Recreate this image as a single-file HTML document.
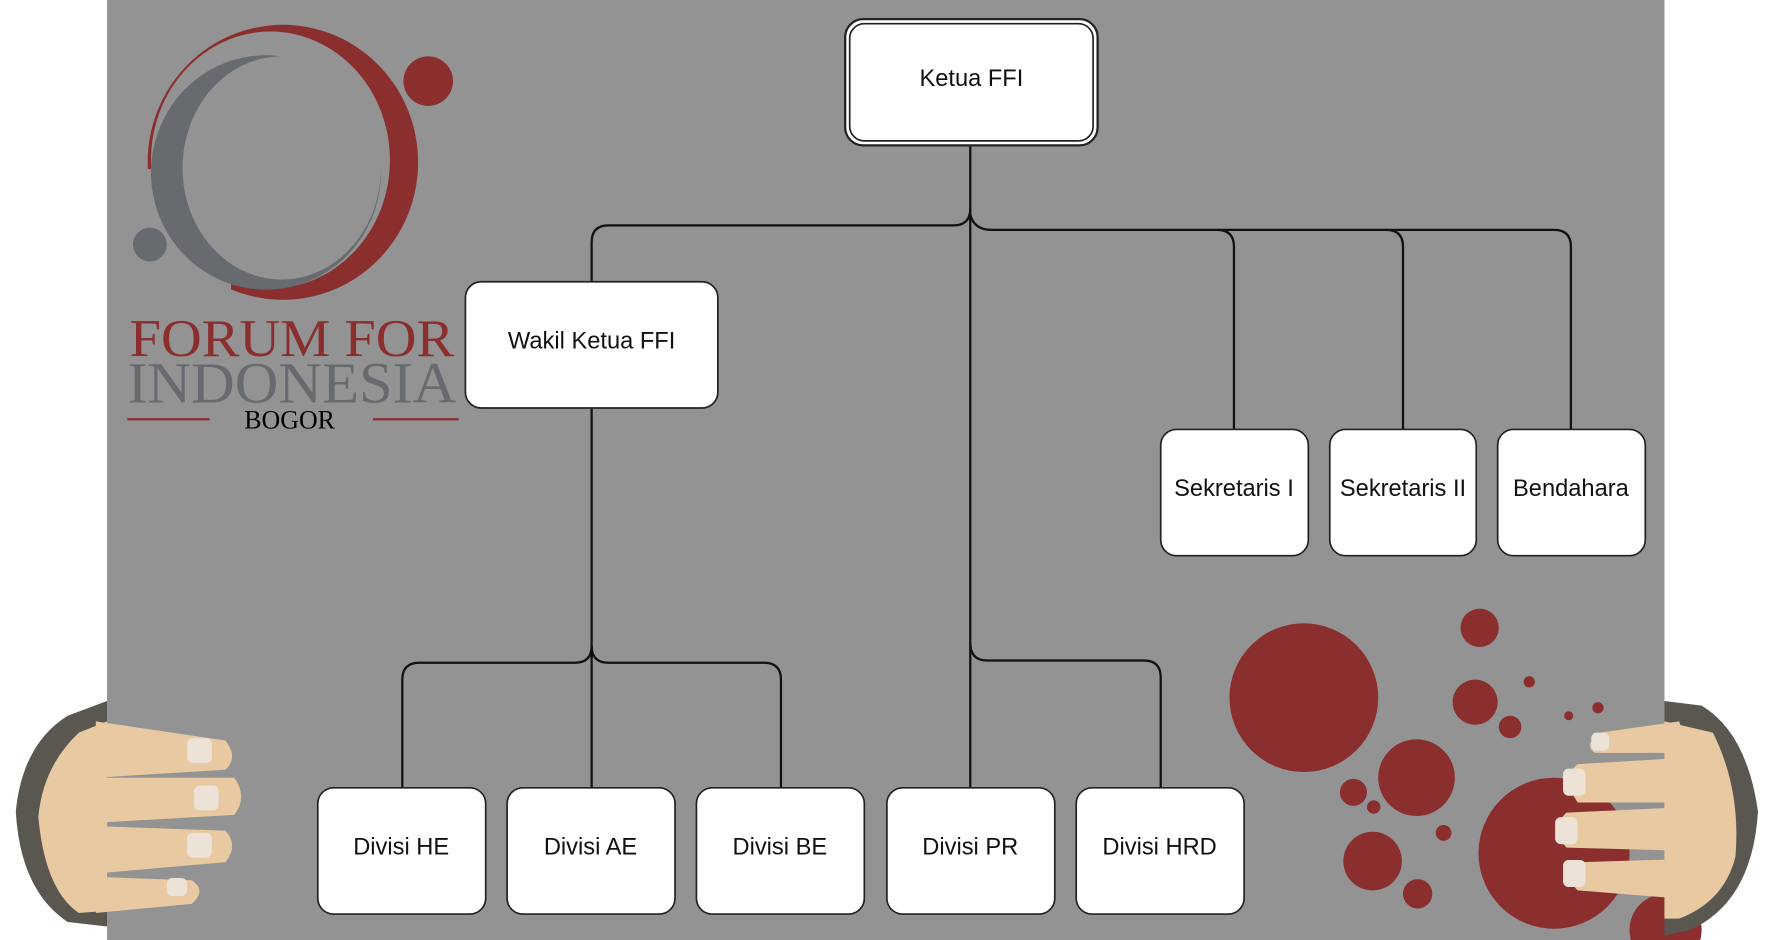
<!DOCTYPE html>
<html><head><meta charset="utf-8"><style>
html,body{margin:0;padding:0;background:#fff;width:1767px;height:940px;overflow:hidden}
svg{display:block}
.t{font-family:"Liberation Sans",sans-serif;font-size:21px;fill:#111;text-anchor:middle;dominant-baseline:central}
.s{font-family:"Liberation Serif",serif;text-anchor:middle}
</style></head><body>
<svg width="1767" height="940" viewBox="0 0 1568 834" preserveAspectRatio="none" xmlns="http://www.w3.org/2000/svg">
<rect x="95" y="0" width="1382" height="834" fill="#939393"/>
<!-- logo -->
<ellipse cx="251" cy="144" rx="120" ry="122" fill="#8b2e2e"/>
<ellipse cx="240" cy="142" rx="106" ry="114" fill="#939393"/>
<rect x="105" y="150" width="100" height="130" fill="#939393"/>
<ellipse cx="236" cy="153" rx="102" ry="104" fill="#676b6f"/>
<ellipse cx="250" cy="149" rx="88" ry="99" fill="#939393"/>
<circle cx="380" cy="72" r="22" fill="#8b2e2e"/>
<circle cx="133" cy="217" r="15" fill="#676b6f"/>
<text class="s" x="259" y="316" font-size="47" fill="#8b2e2e" textLength="288" lengthAdjust="spacingAndGlyphs">FORUM FOR</text>
<text class="s" x="259" y="357" font-size="52" fill="#676b6f" textLength="292" lengthAdjust="spacingAndGlyphs">INDONESIA</text>
<text class="s" x="257" y="380" font-size="23" fill="#000">BOGOR</text>
<line x1="113" y1="372" x2="186" y2="372" stroke="#8b2e2e" stroke-width="2"/>
<line x1="331" y1="372" x2="407" y2="372" stroke="#8b2e2e" stroke-width="2"/>
<!-- red circles -->
<g fill="#8b2e2e">
<circle cx="1157" cy="619" r="66"/><circle cx="1313" cy="557" r="17"/><circle cx="1309" cy="623" r="20"/>
<circle cx="1340" cy="645" r="10"/><circle cx="1357" cy="605" r="5"/><circle cx="1257" cy="690" r="34"/>
<circle cx="1201" cy="703" r="12"/><circle cx="1219" cy="716" r="6"/><circle cx="1218" cy="764" r="26"/>
<circle cx="1281" cy="739" r="7"/><circle cx="1258" cy="793" r="13"/><circle cx="1379" cy="757" r="67"/>
<circle cx="1392" cy="635" r="4"/><circle cx="1418" cy="628" r="5"/><circle cx="1478" cy="825" r="32"/>
</g>
<!-- connectors -->
<g fill="none" stroke="#111" stroke-width="2">
<path d="M861,129 V699"/>
<path d="M861,185 Q861,200 846,200 H540 Q525,200 525,215 V250"/>
<path d="M861,190 Q864,204 880,204 H1379 Q1394,204 1394,219 V381"/>
<path d="M1080,204 Q1095,204 1095,219 V381"/>
<path d="M1230,204 Q1245,204 1245,219 V381"/>
<path d="M525,362 V699"/>
<path d="M525,573 Q525,588 510,588 H372 Q357,588 357,603 V699"/>
<path d="M525,573 Q525,588 540,588 H678 Q693,588 693,603 V699"/>
<path d="M861,570 Q861,586 876,586 H1015 Q1030,586 1030,601 V699"/>
</g>
<!-- boxes -->
<g fill="#fff" stroke="#222" stroke-width="1.5">
<rect x="750" y="17" width="224" height="112" rx="16" stroke-width="2"/>
<rect x="754" y="21" width="216" height="104" rx="13"/>
<rect x="413" y="250" width="224" height="112" rx="14"/>
<rect x="1030" y="381" width="131" height="112" rx="14"/>
<rect x="1180" y="381" width="130" height="112" rx="14"/>
<rect x="1329" y="381" width="131" height="112" rx="14"/>
<rect x="282" y="699" width="149" height="112" rx="14"/>
<rect x="450" y="699" width="149" height="112" rx="14"/>
<rect x="618" y="699" width="149" height="112" rx="14"/>
<rect x="787" y="699" width="149" height="112" rx="14"/>
<rect x="955" y="699" width="149" height="112" rx="14"/>
</g>
<text class="t" x="862" y="70">Ketua FFI</text>
<text class="t" x="525" y="303">Wakil Ketua FFI</text>
<text class="t" x="1095" y="434">Sekretaris I</text>
<text class="t" x="1245" y="434">Sekretaris II</text>
<text class="t" x="1394" y="434">Bendahara</text>
<text class="t" x="356" y="752">Divisi HE</text>
<text class="t" x="524" y="752">Divisi AE</text>
<text class="t" x="692" y="752">Divisi BE</text>
<text class="t" x="861" y="752">Divisi PR</text>
<text class="t" x="1029" y="752">Divisi HRD</text>
<!-- left hand -->
<path d="M95,622 L60,635 Q20,660 14,720 Q18,790 60,818 L95,822 Z" fill="#5a5650"/>
<path d="M95,640 L70,650 Q38,680 34,725 Q40,790 70,810 L95,808 Z" fill="#e8c9a2"/>
<g fill="#e8c9a2">
<path d="M85,640 L200,657 Q212,672 200,683 L85,690Z"/>
<path d="M85,690 L208,690 Q220,707 208,723 L85,730Z"/>
<path d="M85,733 L200,737 Q212,750 200,765 L85,775Z"/>
<path d="M85,778 L170,781 Q184,790 170,802 L85,810Z"/>
</g>
<g fill="#ece2d6">
<rect x="166" y="655" width="22" height="22" rx="5"/><rect x="172" y="697" width="22" height="22" rx="5"/>
<rect x="166" y="739" width="22" height="22" rx="5"/><rect x="148" y="779" width="18" height="16" rx="5"/>
</g>
<!-- right hand -->
<path d="M1477,622 L1510,626 Q1550,650 1560,720 Q1555,800 1500,825 L1477,830Z" fill="#5a5650"/>
<path d="M1477,640 L1520,650 Q1545,700 1540,760 Q1530,800 1490,815 L1477,815Z" fill="#e8c9a2"/>
<g fill="#e8c9a2">
<path d="M1490,640 L1420,650 Q1405,660 1415,668 L1500,668Z"/>
<path d="M1500,672 L1400,678 Q1385,690 1400,712 L1500,712Z"/>
<path d="M1500,716 L1390,721 Q1375,735 1390,752 L1500,755Z"/>
<path d="M1500,762 L1400,765 Q1385,775 1400,790 L1500,798Z"/>
</g>
<g fill="#ece2d6">
<rect x="1412" y="650" width="16" height="16" rx="5"/><rect x="1387" y="682" width="20" height="24" rx="5"/>
<rect x="1380" y="725" width="20" height="24" rx="5"/><rect x="1387" y="763" width="20" height="24" rx="5"/>
</g>
</svg>
</body></html>
